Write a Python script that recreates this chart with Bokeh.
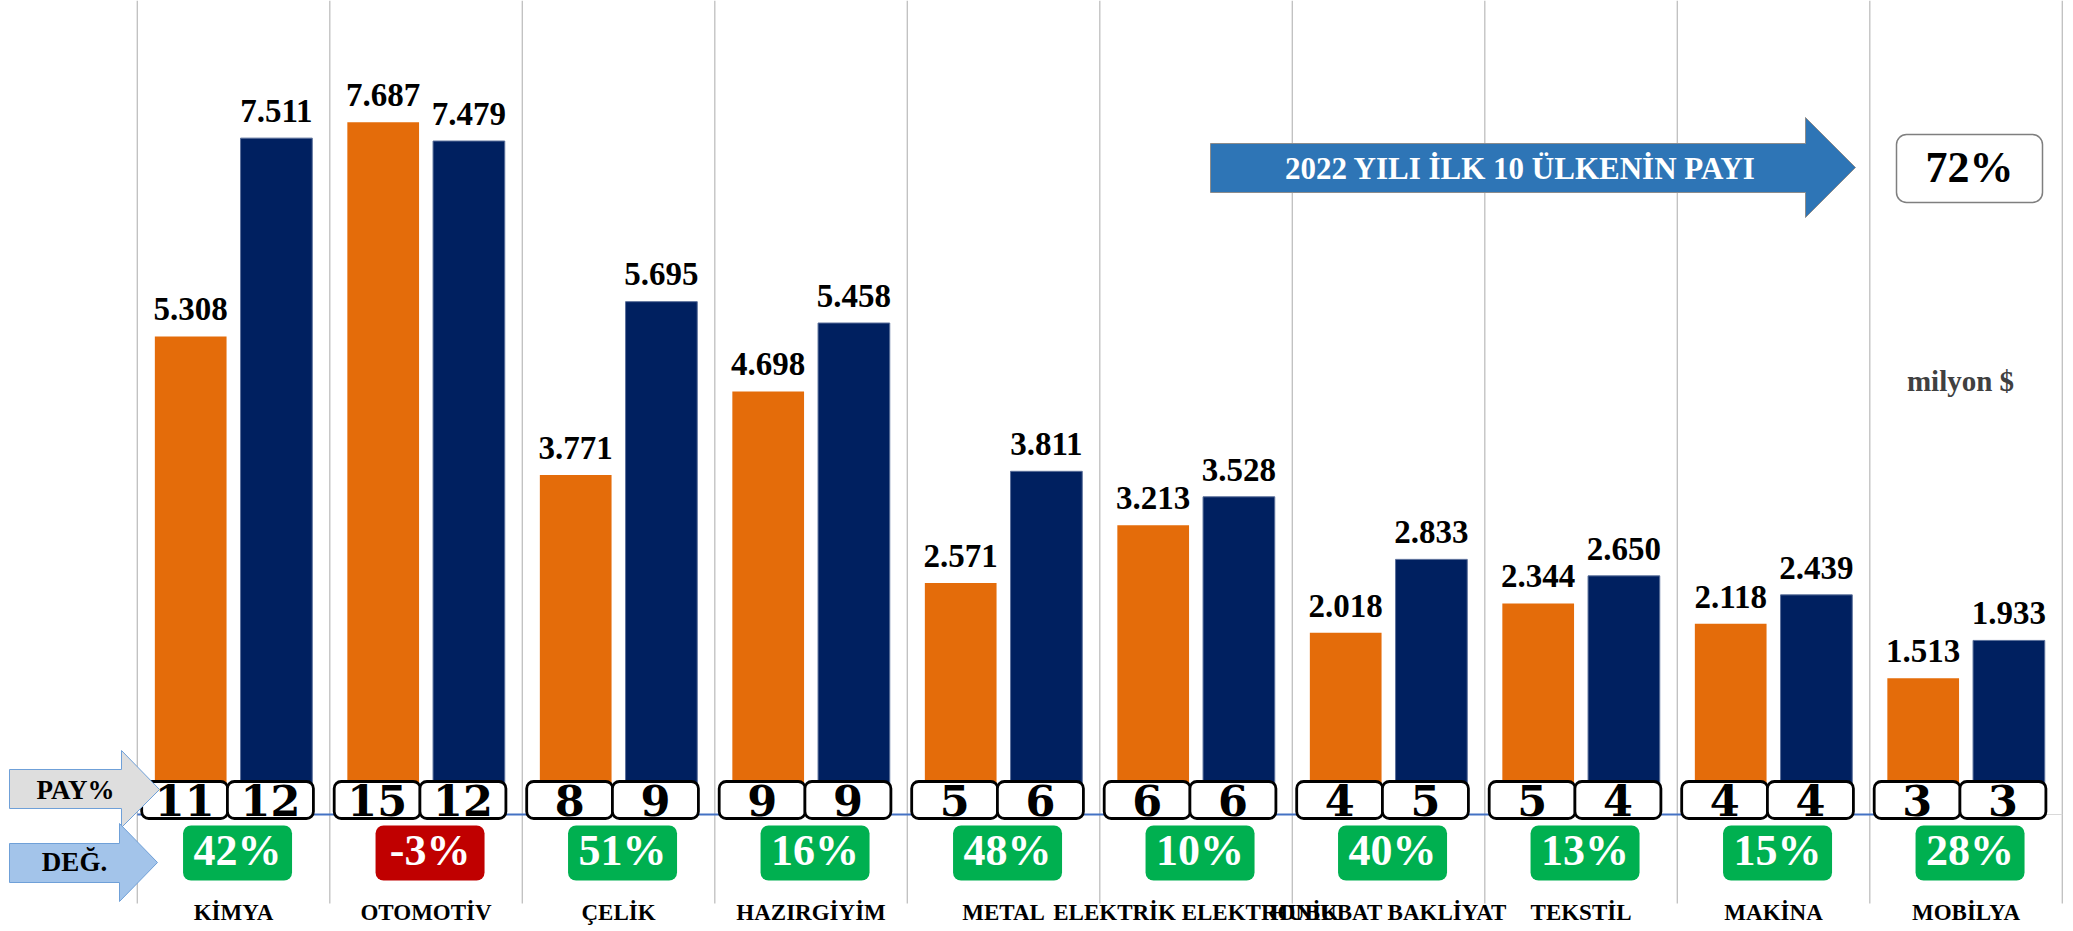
from bokeh.plotting import figure
from bokeh.models import Range1d, BoxAnnotation
from bokeh.core.properties import value
from bokeh.embed import file_html
from bokeh.resources import INLINE

# ---------------- data ----------------
categories = ["KİMYA", "OTOMOTİV", "ÇELİK", "HAZIRGİYİM", "METAL",
              "ELEKTRİK ELEKTRONİK", "HUBUBAT BAKLİYAT", "TEKSTİL", "MAKİNA", "MOBİLYA"]
exports_2021 = [5308, 7687, 3771, 4698, 2571, 3213, 2018, 2344, 2118, 1513]
exports_2022 = [7511, 7479, 5695, 5458, 3811, 3528, 2833, 2650, 2439, 1933]
share_2021 = [11, 15, 8, 9, 5, 6, 4, 5, 4, 3]
share_2022 = [12, 12, 9, 9, 6, 6, 5, 4, 4, 3]
change_pct = [42, -3, 51, 16, 48, 10, 40, 13, 15, 28]
top10_share = 72
banner_text = "2022 YILI İLK 10 ÜLKENİN PAYI"
unit_text = "milyon $"
pay_label = "PAY%"
deg_label = "DEĞ."

# ---------------- layout ----------------
W, H = 2073, 931
PAGE = 0
GRID_X0 = 136.8      # page px of first category boundary
CAT_W = 192.5        # page px per category
BASE_Y = 814         # page px of value 0
PX_PER_M = 0.09005   # page px per million $
BASE_FIX = 0.40      # renderer places alphabetic baseline lower by ~this * font size

def dx(px):
    return (px - GRID_X0) / CAT_W

def dy(py):
    return (BASE_Y - py) / PX_PER_M

def ty(py, fs):
    """data y for a text whose baseline should sit at page px py"""
    return dy(py - BASE_FIX * fs)

FONT = value("Liberation Serif")
FONT_BOX = value("DejaVu Serif")
ORANGE = "#E46C0A"
NAVY = "#002060"
BAR_OFF = 0.2226
BAR_W = 0.3725

p = figure(width=W, height=H,
           x_range=Range1d(dx(PAGE), dx(PAGE + W)),
           y_range=Range1d(dy(PAGE + H), dy(PAGE)),
           output_backend="svg", toolbar_location=None,
           x_axis_location=None, y_axis_location=None, min_border=0)
p.grid.visible = False
p.outline_line_color = None
p.background_fill_color = "white"
p.border_fill_color = "white"

n = len(categories)
centers = [i + 0.5 for i in range(n)]

# vertical category separators
p.segment(x0=list(range(n + 1)), y0=[dy(903)] * (n + 1),
          x1=list(range(n + 1)), y1=[dy(0)] * (n + 1),
          line_color="#BFBFBF", line_width=1.3, level="underlay")

# bars
x21 = [c - BAR_OFF for c in centers]
x22 = [c + BAR_OFF for c in centers]
p.vbar(x=x21, top=exports_2021, bottom=0, width=BAR_W, fill_color=ORANGE, line_color=None)
p.vbar(x=x22, top=exports_2022, bottom=0, width=BAR_W, fill_color=NAVY,
       line_color="#5A6F9A", line_width=1)

# baseline
p.segment(x0=[0], y0=[0], x1=[dx(1967)], y1=[0], line_color="#4472C4", line_width=2)
p.segment(x0=[dx(1967)], y0=[0], x1=[n], y1=[0], line_color="#D9D9D9", line_width=1.2)

def fmt(v):
    return f"{v:,}".replace(",", ".")

FS_VAL = 33
lab_gap = (14 + BASE_FIX * FS_VAL) / PX_PER_M
for xs, vals in ((x21, exports_2021), (x22, exports_2022)):
    p.text(x=xs, y=[v + lab_gap for v in vals], text=[fmt(v) for v in vals],
           text_font=FONT, text_font_style="bold", text_font_size=f"{FS_VAL}px",
           text_align="center", text_baseline="alphabetic", text_color="black")

# share boxes (PAY%)
BOX_HW = 43 / CAT_W
BOX_SHIFT = -6 / CAT_W
box_x = []
box_t = []
for i in range(n):
    for xc, s in ((x21[i], share_2021[i]), (x22[i], share_2022[i])):
        bx = xc + BOX_SHIFT
        p.add_layout(BoxAnnotation(left=bx - BOX_HW, right=bx + BOX_HW,
                                   top=dy(781), bottom=dy(818),
                                   fill_color="white", fill_alpha=1,
                                   line_color="black", line_alpha=1, line_width=2.8,
                                   border_radius=7))
        box_x.append(bx)
        box_t.append(str(s))

# change boxes (DEĞ.)
G_HW = 54.5 / CAT_W
G_SHIFT = 4 / CAT_W
g_x = [c + G_SHIFT for c in centers]
for i in range(n):
    col = "#00B050" if change_pct[i] >= 0 else "#C00000"
    p.add_layout(BoxAnnotation(left=g_x[i] - G_HW, right=g_x[i] + G_HW,
                               top=dy(825), bottom=dy(880),
                               fill_color=col, fill_alpha=1,
                               line_color=None, border_radius=8))

# 72% box
p.add_layout(BoxAnnotation(left=dx(1896), right=dx(2042), top=dy(134), bottom=dy(202),
                           fill_color="white", fill_alpha=1,
                           line_color="#7F7F7F", line_alpha=1, line_width=1.5,
                           border_radius=10))

# big banner arrow
p.patch(x=[dx(1210), dx(1805), dx(1805), dx(1855), dx(1805), dx(1805), dx(1210)],
        y=[dy(143), dy(143), dy(117), dy(167), dy(217), dy(192), dy(192)],
        fill_color="#2E75B6", line_color="#8C8C8C", line_width=1)

# PAY% and DEĞ. arrows
p.patch(x=[dx(9), dx(121), dx(121), dx(159), dx(121), dx(121), dx(9)],
        y=[dy(769), dy(769), dy(750), dy(789), dy(827), dy(808), dy(808)],
        fill_color="#DEDEDE", line_color="#6FA0D8", line_width=1, level="overlay")
p.patch(x=[dx(9), dx(119), dx(119), dx(157), dx(119), dx(119), dx(9)],
        y=[dy(843), dy(843), dy(823), dy(862), dy(901), dy(882), dy(882)],
        fill_color="#A3C4EA", line_color="#6FA0D8", line_width=1, level="overlay")

def label(xs, base_py, texts, fs, color="black", font=FONT):
    p.text(x=xs, y=[ty(base_py, fs)] * len(xs), text=texts,
           text_font=font, text_font_style="bold", text_font_size=f"{fs}px",
           text_align="center", text_baseline="alphabetic", text_color=color, level="overlay")

# texts on top
label(box_x, 817, box_t, 43, font=FONT_BOX)
label(g_x, 868, [f"{c}%" for c in change_pct], 44, "white")
label(centers, 921, categories, 23)
label([dx(75)], 800, [pay_label], 27)
label([dx(74)], 872, [deg_label], 27)
label([dx(1520)], 180, [banner_text], 31, "white")
label([dx(1969)], 185, [f"{top10_share}%"], 44)
label([dx(1960)], 392, [unit_text], 29, "#404040")

open("out.html", "w").write(file_html(p, INLINE))
